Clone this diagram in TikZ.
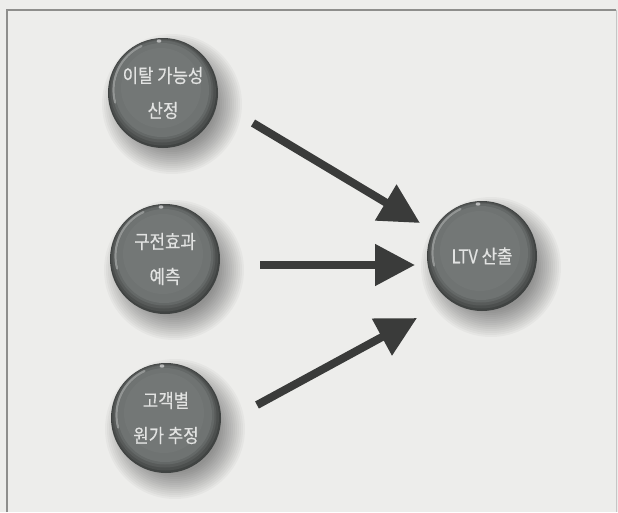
\documentclass[tikz,border=0pt]{standalone}
\usepackage{fontspec}
\newfontfamily\kfont[FakeStretch=0.88,FakeBold=0.4]{Noto Sans CJK KR}
\usetikzlibrary{arrows.meta,calc}

\definecolor{paper}{HTML}{EDEDEB}
\definecolor{framegray}{HTML}{8E8E8C}
\definecolor{arrowgray}{HTML}{3A3B3A}
\definecolor{textgray}{HTML}{E2E3E2}
\definecolor{rimA}{HTML}{404342}
\definecolor{rimB}{HTML}{4C4F4E}
\definecolor{rimC}{HTML}{585B5A}
\definecolor{rimD}{HTML}{646867}
\definecolor{faceA}{HTML}{6F7372}
\definecolor{faceB}{HTML}{737776}

\tikzset{
  balltext/.style={circle, minimum size=110pt, inner sep=0pt, text=textgray,
    font=\kfont\fontsize{19pt}{35pt}\selectfont, align=center},
  flow/.style={draw=arrowgray, line width=8pt,
    -{Triangle[length=40pt,width=40pt,fill=arrowgray]}},
}

% shaded button with its label node
\newcommand\globall[4]{%
  \begin{scope}[shift={(#2,#3)}]
    % soft drop shadow, built from stacked translucent discs
    \foreach \r in {70,68,...,44}
      \fill[black, opacity=.032] (9,11) circle (\r);
    % rim, darkening towards the edge
    \fill[rimA] (0,0) circle (55);
    \fill[rimB] (-0.5,-1) circle (53.5);
    \fill[rimC] (-1,-2) circle (51.5);
    \fill[rimD] (-1,-3) circle (49.5);
    % flat face
    \fill[faceA] (-1,-3) circle (47);
    \fill[faceB] (-2,-5) circle (40);
    % glossy edge highlight and top glint
    \draw[white, opacity=.3, line width=2.2pt, line cap=round] (-1,-3) ++(165:48.5) arc (165:245:48.5);
    \fill[white, opacity=.55] (-4,-52) ellipse (2.4 and 1.7);
    \node[balltext] (#1) at (0,0) {#4};
  \end{scope}}

\begin{document}
\begin{tikzpicture}[x=1pt,y=-1pt]
  \useasboundingbox (0,0) rectangle (618,512);
  \fill[paper] (0,0) rectangle (618,512);
  \draw[framegray, line width=1.6pt] (7,512) -- (7,10) -- (616,10);
  \draw[framegray!50, line width=1pt] (616,10) -- (616,512);

  \globall{churn}{163}{93}{이탈 가능성\\산정}
  \globall{buzz}{165}{259}{구전효과\\예측}
  \globall{cost}{166}{418}{고객별\\원가 추정}
  \globall{ltv}{482}{256}{LTV 산출}

  \coordinate (churn-out) at ($(churn.center)+(90,30)$);
  \coordinate (buzz-out)  at ($(buzz.center)+(95,6)$);
  \coordinate (cost-out)  at ($(cost.center)+(91,-13)$);
  \coordinate (ltv-in1) at ($(ltv.center)+(-62,-33)$);
  \coordinate (ltv-in2) at ($(ltv.center)+(-67,9)$);
  \coordinate (ltv-in3) at ($(ltv.center)+(-65,62)$);

  \draw[flow] (churn-out) -- (ltv-in1);
  \draw[flow] (buzz-out) -- (ltv-in2);
  \draw[flow] (cost-out) -- (ltv-in3);
\end{tikzpicture}
\end{document}
